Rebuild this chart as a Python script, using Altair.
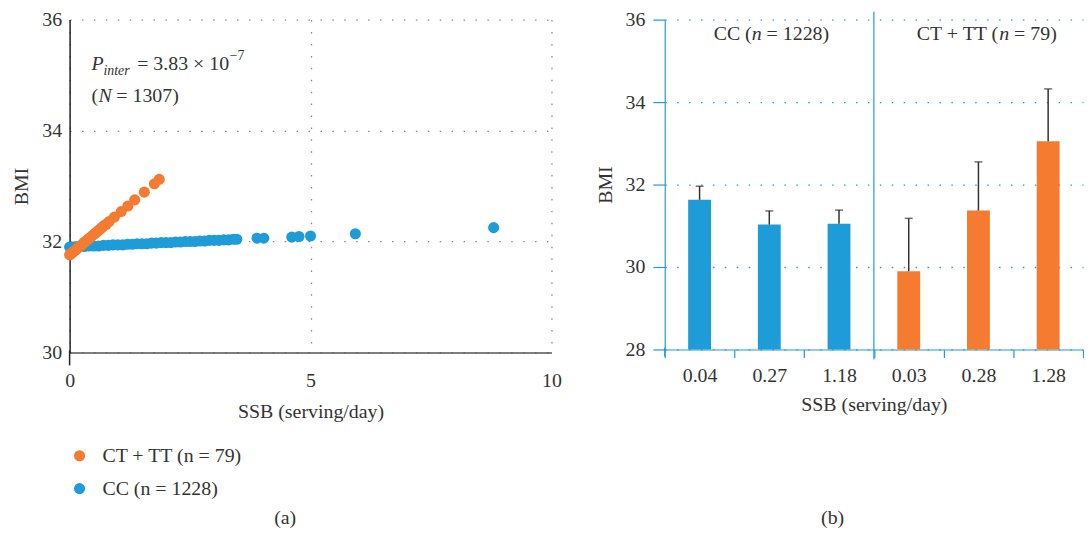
import altair as alt
import pandas as pd

FONT = "Liberation Serif"
BLUE = "#1e9cd7"
ORANGE = "#f47b30"
TEXT = "#333333"

cc_label = "CC (n = 1228)"
ct_label = "CT + TT (n = 79)"

# ---------------- panel (a): predicted BMI vs SSB ----------------
cc_ssb = [0.0, 0.05, 0.1, 0.15, 0.2, 0.3, 0.4, 0.5, 0.6, 0.7, 0.8, 0.9, 1.0, 1.1, 1.2,
          1.3, 1.4, 1.5, 1.6, 1.7, 1.8, 1.9, 2.0, 2.1, 2.2, 2.3, 2.4, 2.5, 2.6, 2.7,
          2.8, 2.9, 3.0, 3.1, 3.2, 3.3, 3.4, 3.47, 3.89, 4.03, 4.61, 4.76, 5.0, 5.93, 8.8]
cc_bmi = [31.90, 31.90, 31.90, 31.91, 31.91, 31.91, 31.92, 31.92, 31.92, 31.93, 31.93,
          31.94, 31.94, 31.94, 31.95, 31.95, 31.96, 31.96, 31.96, 31.97, 31.97, 31.98,
          31.98, 31.98, 31.99, 31.99, 32.00, 32.00, 32.00, 32.01, 32.01, 32.02, 32.02,
          32.02, 32.03, 32.03, 32.04, 32.04, 32.06, 32.06, 32.08, 32.09, 32.10, 32.14, 32.25]
ct_ssb = [0.0, 0.02, 0.04, 0.06, 0.08, 0.10, 0.13, 0.16, 0.19, 0.22, 0.25, 0.28, 0.31,
          0.34, 0.37, 0.40, 0.44, 0.48, 0.52, 0.56, 0.60, 0.64, 0.68, 0.72, 0.76, 0.82,
          0.93, 1.07, 1.21, 1.35, 1.55, 1.76, 1.86]
ct_bmi = [31.76, 31.77, 31.79, 31.80, 31.82, 31.83, 31.85, 31.88, 31.90, 31.92, 31.94,
          31.96, 31.99, 32.01, 32.03, 32.05, 32.08, 32.11, 32.14, 32.17, 32.20, 32.23,
          32.26, 32.29, 32.31, 32.36, 32.44, 32.54, 32.64, 32.75, 32.89, 33.04, 33.12]

# ---------------- panel (b): mean BMI by SSB tertile ----------------
bar_group = [cc_label, cc_label, cc_label, ct_label, ct_label, ct_label]
bar_ssb = ["0.04", "0.27", "1.18", "0.03", "0.28", "1.28"]
bar_mean = [31.63, 31.03, 31.05, 29.90, 31.37, 33.05]
bar_upper = [31.96, 31.36, 31.38, 31.18, 32.55, 34.32]

sdf = pd.DataFrame({
    "ssb": cc_ssb + ct_ssb,
    "bmi": cc_bmi + ct_bmi,
    "group": [cc_label] * len(cc_ssb) + [ct_label] * len(ct_ssb),
})
bdf = pd.DataFrame({"group": bar_group, "ssb": bar_ssb, "mean": bar_mean, "upper": bar_upper})


def txt(text, x, y, size=20, style="normal", align="left", baseline="alphabetic"):
    return alt.Chart(pd.DataFrame({"t": [text]})).mark_text(
        align=align, baseline=baseline, font=FONT, fontSize=size,
        fontStyle=style, color=TEXT
    ).encode(x=alt.value(x), y=alt.value(y), text="t:N")


WA, HA = 485, 335
xa = alt.X("ssb:Q", scale=alt.Scale(domain=[0, 10], nice=False),
           axis=alt.Axis(values=[0, 5, 10], title="SSB (serving/day)", grid=True,
                         gridDash=[1.5, 10.5], gridColor="#888888", gridWidth=1.3,
                         ticks=False, domainColor="#555555", domainWidth=1.5,
                         labelFlush=False, labelPadding=18, titlePadding=11))
ya = alt.Y("bmi:Q", scale=alt.Scale(domain=[30, 36], nice=False, zero=False),
           axis=alt.Axis(values=[30, 32, 34, 36], title="BMI", grid=True,
                         gridDash=[1.5, 10.5], gridColor="#888888", gridWidth=1.3,
                         ticks=False, domainColor="#222222", domainWidth=1.5,
                         labelPadding=8, titlePadding=10))

scatter = alt.Chart(sdf).mark_circle(size=125, opacity=1).encode(
    x=xa, y=ya,
    color=alt.Color("group:N",
                    scale=alt.Scale(domain=[ct_label, cc_label], range=[ORANGE, BLUE]),
                    legend=alt.Legend(orient="none", legendX=0, legendY=429, title=None,
                                      symbolType="circle", symbolSize=125,
                                      labelFontSize=20, labelFont=FONT, labelColor=TEXT,
                                      labelOffset=13, rowPadding=13, padding=0)),
)
yext_a = alt.Chart(pd.DataFrame({"v": [0]})).mark_rule(color="#222222", strokeWidth=1.5).encode(
    x=alt.X("v:Q"), y=alt.value(HA - 2), y2=alt.value(HA + 13))

panel_a = alt.layer(
    scatter, yext_a,
    txt("P", 22, 51, style="italic"),
    txt("inter", 34, 56, size=14, style="italic"),
    txt("= 3.83 × 10", 68, 51),
    txt("−7", 161, 41, size=14),
    txt("(", 22, 83),
    txt("N", 29, 83, style="italic"),
    txt("= 1307)", 47, 83),
    txt("(a)", 217, 502, align="center", baseline="middle"),
).properties(width=WA, height=HA)

# ---------------- panel (b) ----------------
WB, HB = 421, 332
xb = alt.X("ssb:N", sort=bar_ssb,
           scale=alt.Scale(paddingInner=0, paddingOuter=0),
           axis=alt.Axis(title="SSB (serving/day)", labelAngle=0, tickBand="extent",
                         domainColor=BLUE, tickColor=BLUE, tickSize=8, domainWidth=1.2,
                         tickWidth=1.2, labelPadding=8, titlePadding=9))
yb = alt.Y("mean:Q", scale=alt.Scale(domain=[28, 36], nice=False, zero=False),
           axis=alt.Axis(values=[28, 30, 32, 34, 36], title="BMI", grid=True,
                         gridDash=[1.5, 10.5], gridColor=BLUE, gridWidth=1.3,
                         domainColor=BLUE, tickColor=BLUE, tickSize=12, domainWidth=1.2,
                         tickWidth=1.2, labelPadding=8, titlePadding=10))

bars = alt.Chart(bdf).mark_bar(size=23).encode(
    x=xb, y=yb, y2=alt.datum(28),
    color=alt.Color("group:N", scale=alt.Scale(domain=[ct_label, cc_label], range=[ORANGE, BLUE]),
                    legend=None),
)
err = alt.Chart(bdf).mark_rule(color="#333333", strokeWidth=1.5).encode(
    x=alt.X("ssb:N", sort=bar_ssb), y="mean:Q", y2="upper:Q")
cap = alt.Chart(bdf).mark_tick(color="#333333", thickness=1.5, size=8).encode(
    x=alt.X("ssb:N", sort=bar_ssb), y="upper:Q")

sep = alt.Chart(pd.DataFrame({"ssb": ["1.18"]})).mark_rule(color=BLUE, strokeWidth=1.2).encode(
    x=alt.X("ssb:N", sort=bar_ssb, bandPosition=1), y=alt.value(-8), y2=alt.value(HB + 10))
yext_b = alt.Chart(pd.DataFrame({"v": [0]})).mark_rule(color=BLUE, strokeWidth=1.2).encode(
    x=alt.value(0), y=alt.value(HB - 2), y2=alt.value(HB + 7))


def htxt(text, cat, dx, style="normal"):
    return alt.Chart(pd.DataFrame({"ssb": [cat], "t": [text]})).mark_text(
        align="left", baseline="middle", font=FONT, fontSize=20, fontStyle=style,
        color=TEXT, dx=dx
    ).encode(x=alt.X("ssb:N", sort=bar_ssb), y=alt.value(15), text="t:N")


panel_b = alt.layer(
    bars, err, cap, sep, yext_b,
    htxt("CC (", "0.27", -56), htxt("n", "0.27", -17.7, "italic"), htxt("= 1228)", "0.27", -2.7),
    htxt("CT + TT (", "0.28", -62), htxt("n", "0.28", 20.9, "italic"), htxt("= 79)", "0.28", 35.9),
    txt("(b)", 169, 502, align="center", baseline="middle"),
).properties(width=WB, height=HB)

chart = alt.hconcat(panel_a, panel_b, spacing=34).resolve_scale(
    color="independent"
).properties(
    padding={"left": 4, "top": 0, "right": 0, "bottom": 0}
).configure_view(stroke=None).configure_axis(
    labelFont=FONT, titleFont=FONT, labelFontSize=20, titleFontSize=20,
    titleFontWeight="normal", labelColor=TEXT, titleColor=TEXT
)

chart.save("out.html", embed_options={"renderer": "svg", "actions": False})
